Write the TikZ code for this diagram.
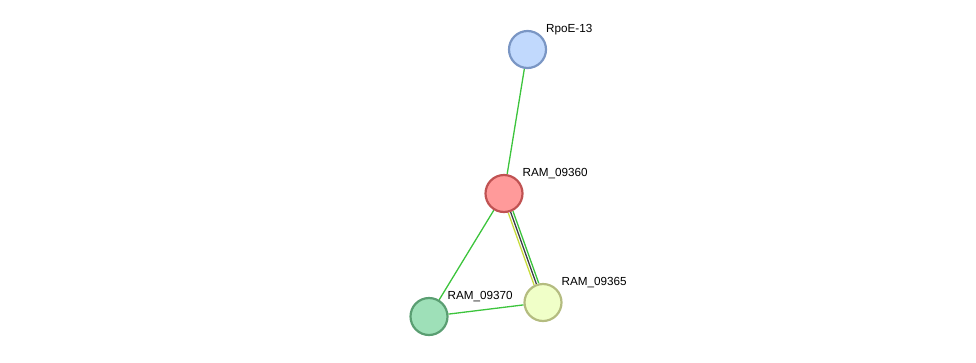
\documentclass[tikz,border=0pt]{standalone}
\usepackage{fontspec}
\setmainfont{Liberation Sans}
\definecolor{edgegreen}{RGB}{60, 196, 60}
\definecolor{edgeyellow}{RGB}{200, 220, 60}
\definecolor{edgegrey}{RGB}{60, 60, 70}
\definecolor{rpoefill}{RGB}{193, 217, 253}
\definecolor{rpoedraw}{RGB}{122, 150, 196}
\definecolor{redfill}{RGB}{255, 154, 154}
\definecolor{reddraw}{RGB}{192, 82, 82}
\definecolor{yelfill}{RGB}{240, 255, 200}
\definecolor{yeldraw}{RGB}{180, 188, 128}
\definecolor{grnfill}{RGB}{158, 224, 184}
\definecolor{grndraw}{RGB}{90, 158, 114}
\usetikzlibrary{positioning, backgrounds}

\begin{document}
\begin{tikzpicture}[x=1pt, y=-1pt,
  protein/.style={circle, minimum size=37pt, inner sep=0pt, line width=2.2pt},
  plabel/.style={anchor=west, font=\fontsize{11.7}{14}\selectfont, inner sep=0pt},
  link/.style={line width=1.3pt}]
  \useasboundingbox (0,0) rectangle (976,362);
  % proteins
  \node[protein, draw=rpoedraw, fill=rpoefill] (rpoe) at (527.5,49.5) {};
  \node[protein, draw=reddraw, fill=redfill] (r60) at (504,193.5) {};
  \node[protein, draw=yeldraw, fill=yelfill] (r65) at (543,302.5) {};
  \node[protein, draw=grndraw, fill=grnfill] (r70) at (429,316.5) {};
  \node[plabel, right=18.5pt of rpoe.center, yshift=20.3pt] (lrpoe) {RpoE-13};
  \node[plabel, right=18.5pt of r60.center, yshift=20.3pt] (lr60) {RAM\_09360};
  \node[plabel, right=18.5pt of r65.center, yshift=20.3pt] (lr65) {RAM\_09365};
  \node[plabel, right=18.5pt of r70.center, yshift=20.3pt] (lr70) {RAM\_09370};
  % links
  \begin{scope}[on background layer]
    \draw[link, edgegreen] (rpoe) -- (r60);
    \draw[link, edgegreen] (r60) -- (r70);
    \draw[link, edgegreen] (r70) -- (r65);
    \draw[link, edgeyellow, transform canvas={shift={(-2.35pt,-0.84pt)}}] (r60) -- (r65);
    \draw[link, edgegrey] (r60) -- (r65);
    \draw[link, edgegreen, transform canvas={shift={(2.35pt,0.84pt)}}] (r60) -- (r65);
  \end{scope}
\end{tikzpicture}
\end{document}
